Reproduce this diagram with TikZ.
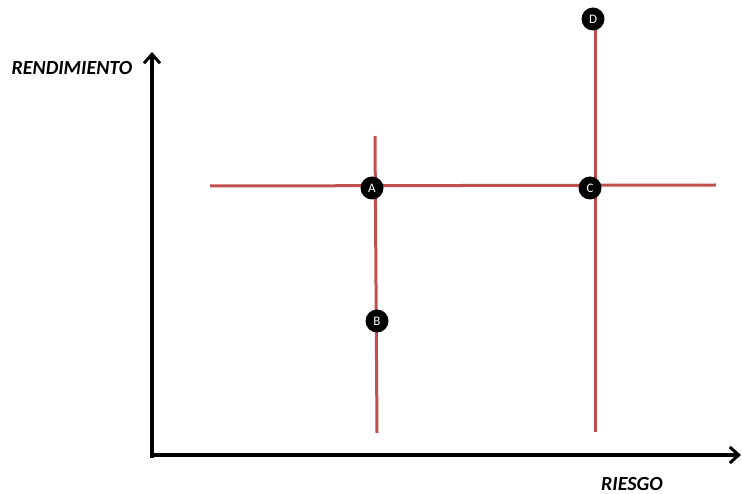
\documentclass[tikz,border=0pt]{standalone}
\usepackage{fontspec}
\setmainfont{Carlito}
\usetikzlibrary{arrows.meta}
\definecolor{lred}{RGB}{192,80,77}
\begin{document}
\begin{tikzpicture}[x=1pt,y=-1pt,
  axis/.style={line width=3.5pt,-{Straight Barb[length=9pt,width=16pt,line width=3pt]}},
  redline/.style={draw=lred,line width=3pt},
  dot/.style={circle,fill=black,text=white,minimum size=23pt,inner sep=0pt,font=\fontsize{13}{14}\selectfont},
  lbl/.style={font=\fontsize{20}{22}\selectfont\bfseries\itshape}]
\useasboundingbox (0,0) rectangle (742,494);
\coordinate (ytop) at (152,52);
\coordinate (xend) at (741,455);
\coordinate (o2) at (152,458);
\coordinate (o1) at (150.25,455);
\draw[axis] (o2) -- (ytop);
\draw[axis] (o1) -- (xend);
\coordinate (h1) at (210,186);
\coordinate (h2) at (716,185);
\coordinate (v1a) at (375,136);
\coordinate (v1b) at (377,433);
\coordinate (v2a) at (595,28);
\coordinate (v2b) at (595,432);
\draw[redline] (h1) -- (h2);
\draw[redline] (v1a) -- (v1b);
\draw[redline] (v2a) -- (v2b);
\node[dot] (A) at (372,188) {A};
\node[dot] (B) at (377,321) {B};
\node[dot] (C) at (590,188) {C};
\node[dot] (D) at (593,19) {D};
\node[lbl] (ylab) at (72,68) {RENDIMIENTO};
\node[lbl] (xlab) at (632,484) {RIESGO};
\end{tikzpicture}
\end{document}
